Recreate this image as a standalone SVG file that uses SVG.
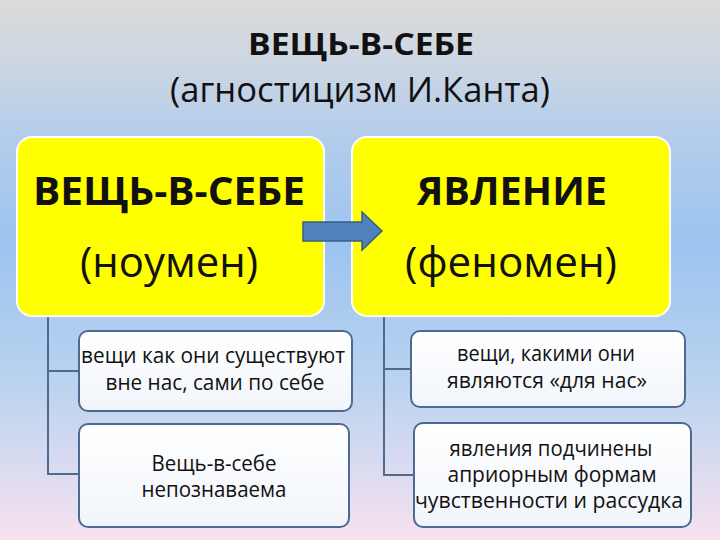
<svg xmlns="http://www.w3.org/2000/svg" width="720" height="540" viewBox="0 0 720 540">
<defs>
<linearGradient id="bg" x1="0" y1="0" x2="0" y2="1">
<stop offset="0" stop-color="#dbdbdb"/>
<stop offset="0.1" stop-color="#cfd7e2"/>
<stop offset="0.25" stop-color="#b4cdeb"/>
<stop offset="0.45" stop-color="#9cc4f0"/>
<stop offset="0.7" stop-color="#b9d2ef"/>
<stop offset="1" stop-color="#f6e2f0"/>
</linearGradient>
<linearGradient id="child" x1="0" y1="0" x2="0" y2="1">
<stop offset="0" stop-color="#ffffff"/>
<stop offset="1" stop-color="#f1f5fb"/>
</linearGradient>
<style>
.t{font-family:"Open Sans","Noto Sans","DejaVu Sans",sans-serif;fill:#111;text-anchor:middle}
.b{font-weight:bold}
.main{fill:#ffff00;stroke:#ffffff;stroke-width:2}
.sub{fill:url(#child);stroke:#4d6b92;stroke-width:2}
.con{fill:none;stroke:#4d6b92;stroke-width:2}
.ct{font-size:21px}
</style>
</defs>
<rect width="720" height="540" fill="url(#bg)"/>
<g id="title">
<text class="t b" x="361" y="55" font-size="31" textLength="226" lengthAdjust="spacingAndGlyphs">ВЕЩЬ-В-СЕБЕ</text>
<text class="t" x="360" y="102" font-size="35" textLength="380" lengthAdjust="spacingAndGlyphs">(агностицизм И.Канта)</text>
</g>
<g id="connectors">
<polyline class="con" points="48,316 48,474 80,474"/>
<line class="con" x1="48" y1="371" x2="80" y2="371"/>
<polyline class="con" points="384,316 384,475 414,475"/>
<line class="con" x1="384" y1="369" x2="411" y2="369"/>
</g>
<g id="noumenon">
<rect class="main" x="17" y="137" width="307" height="179" rx="15"/>
<text class="t b" x="169" y="205" font-size="39" textLength="272" lengthAdjust="spacingAndGlyphs">ВЕЩЬ-В-СЕБЕ</text>
<text class="t" x="169" y="277" font-size="42" textLength="178" lengthAdjust="spacingAndGlyphs">(ноумен)</text>
</g>
<g id="phenomenon">
<rect class="main" x="352" y="137" width="318" height="179" rx="15"/>
<text class="t b" x="512" y="205" font-size="39" textLength="190" lengthAdjust="spacingAndGlyphs">ЯВЛЕНИЕ</text>
<text class="t" x="511" y="277" font-size="42" textLength="212" lengthAdjust="spacingAndGlyphs">(феномен)</text>
</g>
<g id="arrow">
<polygon points="303,222 362,222 362,212 382,231 362,250 362,241 303,241" fill="#4f81bd" stroke="#385d8a" stroke-width="1.5"/>
</g>
<g id="sub1">
<rect class="sub" x="79" y="331" width="273" height="80" rx="9"/>
<text class="t ct" x="213" y="363" textLength="264" lengthAdjust="spacingAndGlyphs">вещи как они существуют</text>
<text class="t ct" x="215" y="390" textLength="219" lengthAdjust="spacingAndGlyphs">вне нас, сами по себе</text>
</g>
<g id="sub2">
<rect class="sub" x="79" y="424" width="270" height="103" rx="9"/>
<text class="t ct" x="214" y="471" textLength="125" lengthAdjust="spacingAndGlyphs">Вещь-в-себе</text>
<text class="t ct" x="214" y="497" textLength="145" lengthAdjust="spacingAndGlyphs">непознаваема</text>
</g>
<g id="sub3">
<rect class="sub" x="411" y="331" width="274" height="76" rx="9"/>
<text class="t ct" x="546" y="361" textLength="178" lengthAdjust="spacingAndGlyphs">вещи, какими они</text>
<text class="t ct" x="547" y="388" textLength="200" lengthAdjust="spacingAndGlyphs">являются «для нас»</text>
</g>
<g id="sub4">
<rect class="sub" x="414" y="423" width="277" height="104" rx="9"/>
<text class="t ct" x="551" y="456" textLength="203" lengthAdjust="spacingAndGlyphs">явления подчинены</text>
<text class="t ct" x="552" y="482" textLength="209" lengthAdjust="spacingAndGlyphs">априорным формам</text>
<text class="t ct" x="549" y="508" textLength="268" lengthAdjust="spacingAndGlyphs">чувственности и рассудка</text>
</g>
</svg>
